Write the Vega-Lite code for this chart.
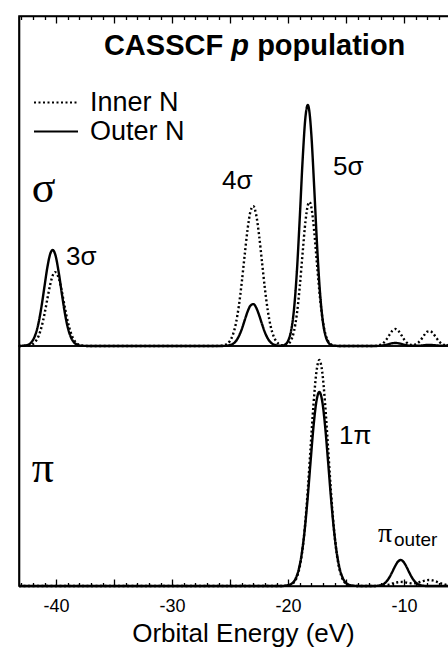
{
  "$schema": "https://vega.github.io/schema/vega-lite/v6.json",
  "padding": {"left": 13, "top": 14, "right": 0, "bottom": 0},
  "background": "white",
  "config": {
    "font": "Liberation Sans",
    "view": {"stroke": "black", "strokeWidth": 1.6},
    "axis": {"domainColor": "black", "tickColor": "black", "domainWidth": 1.6, "tickWidth": 1.3, "grid": false, "labelColor": "black", "titleColor": "black"}
  },
  "datasets": {
    "sigma": [
      {"E": -43.2, "Inner N": 0, "Outer N": 0},
      {"E": -42.5, "Inner N": 0.003, "Outer N": 0.009},
      {"E": -42, "Inner N": 0.02, "Outer N": 0.059},
      {"E": -41.75, "Inner N": 0.049, "Outer N": 0.126},
      {"E": -41.5, "Inner N": 0.103, "Outer N": 0.239},
      {"E": -41.25, "Inner N": 0.193, "Outer N": 0.402},
      {"E": -41, "Inner N": 0.321, "Outer N": 0.598},
      {"E": -40.75, "Inner N": 0.474, "Outer N": 0.79},
      {"E": -40.5, "Inner N": 0.619, "Outer N": 0.924},
      {"E": -40.3, "Inner N": 0.703, "Outer N": 0.96},
      {"E": -40.1, "Inner N": 0.739, "Outer N": 0.924},
      {"E": -39.75, "Inner N": 0.67, "Outer N": 0.717},
      {"E": -39.5, "Inner N": 0.541, "Outer N": 0.518},
      {"E": -39.25, "Inner N": 0.387, "Outer N": 0.332},
      {"E": -39, "Inner N": 0.245, "Outer N": 0.188},
      {"E": -38.75, "Inner N": 0.138, "Outer N": 0.095},
      {"E": -38.5, "Inner N": 0.069, "Outer N": 0.042},
      {"E": -38.25, "Inner N": 0.03, "Outer N": 0.017},
      {"E": -38, "Inner N": 0.012, "Outer N": 0.006},
      {"E": -37.5, "Inner N": 0.001, "Outer N": 0.001},
      {"E": -37, "Inner N": 0, "Outer N": 0},
      {"E": -32, "Inner N": 0, "Outer N": 0},
      {"E": -27, "Inner N": 0, "Outer N": 0},
      {"E": -26, "Inner N": 0.001, "Outer N": 0},
      {"E": -25.5, "Inner N": 0.008, "Outer N": 0.001},
      {"E": -25, "Inner N": 0.053, "Outer N": 0.009},
      {"E": -24.75, "Inner N": 0.116, "Outer N": 0.022},
      {"E": -24.5, "Inner N": 0.226, "Outer N": 0.049},
      {"E": -24.25, "Inner N": 0.399, "Outer N": 0.097},
      {"E": -24, "Inner N": 0.633, "Outer N": 0.167},
      {"E": -23.75, "Inner N": 0.904, "Outer N": 0.255},
      {"E": -23.5, "Inner N": 1.162, "Outer N": 0.342},
      {"E": -23.25, "Inner N": 1.344, "Outer N": 0.403},
      {"E": -23, "Inner N": 1.399, "Outer N": 0.419},
      {"E": -22.75, "Inner N": 1.31, "Outer N": 0.383},
      {"E": -22.5, "Inner N": 1.105, "Outer N": 0.308},
      {"E": -22.25, "Inner N": 0.838, "Outer N": 0.219},
      {"E": -22, "Inner N": 0.572, "Outer N": 0.136},
      {"E": -21.75, "Inner N": 0.352, "Outer N": 0.075},
      {"E": -21.5, "Inner N": 0.194, "Outer N": 0.036},
      {"E": -21.25, "Inner N": 0.097, "Outer N": 0.015},
      {"E": -21, "Inner N": 0.043, "Outer N": 0.006},
      {"E": -20.75, "Inner N": 0.017, "Outer N": 0.003},
      {"E": -20.5, "Inner N": 0.007, "Outer N": 0.004},
      {"E": -20.25, "Inner N": 0.007, "Outer N": 0.015},
      {"E": -20, "Inner N": 0.018, "Outer N": 0.052},
      {"E": -19.75, "Inner N": 0.056, "Outer N": 0.148},
      {"E": -19.5, "Inner N": 0.144, "Outer N": 0.359},
      {"E": -19.25, "Inner N": 0.316, "Outer N": 0.735},
      {"E": -19, "Inner N": 0.588, "Outer N": 1.271},
      {"E": -18.75, "Inner N": 0.93, "Outer N": 1.858},
      {"E": -18.5, "Inner N": 1.25, "Outer N": 2.296},
      {"E": -18.3, "Inner N": 1.408, "Outer N": 2.41},
      {"E": -18.15, "Inner N": 1.44, "Outer N": 2.328},
      {"E": -18, "Inner N": 1.387, "Outer N": 2.118},
      {"E": -17.75, "Inner N": 1.145, "Outer N": 1.582},
      {"E": -17.5, "Inner N": 0.803, "Outer N": 0.998},
      {"E": -17.25, "Inner N": 0.479, "Outer N": 0.532},
      {"E": -17, "Inner N": 0.243, "Outer N": 0.24},
      {"E": -16.75, "Inner N": 0.105, "Outer N": 0.092},
      {"E": -16.5, "Inner N": 0.038, "Outer N": 0.03},
      {"E": -16.25, "Inner N": 0.012, "Outer N": 0.008},
      {"E": -16, "Inner N": 0.003, "Outer N": 0.002},
      {"E": -15.5, "Inner N": 0, "Outer N": 0},
      {"E": -13, "Inner N": 0, "Outer N": 0},
      {"E": -12.5, "Inner N": 0.001, "Outer N": 0},
      {"E": -12, "Inner N": 0.013, "Outer N": 0.004},
      {"E": -11.5, "Inner N": 0.069, "Outer N": 0.014},
      {"E": -11.25, "Inner N": 0.114, "Outer N": 0.021},
      {"E": -11, "Inner N": 0.155, "Outer N": 0.028},
      {"E": -10.75, "Inner N": 0.17, "Outer N": 0.03},
      {"E": -10.5, "Inner N": 0.152, "Outer N": 0.027},
      {"E": -10.25, "Inner N": 0.111, "Outer N": 0.021},
      {"E": -10, "Inner N": 0.065, "Outer N": 0.013},
      {"E": -9.75, "Inner N": 0.032, "Outer N": 0.007},
      {"E": -9.5, "Inner N": 0.014, "Outer N": 0.003},
      {"E": -9.25, "Inner N": 0.009, "Outer N": 0.002},
      {"E": -9, "Inner N": 0.017, "Outer N": 0.002},
      {"E": -8.75, "Inner N": 0.037, "Outer N": 0.003},
      {"E": -8.5, "Inner N": 0.071, "Outer N": 0.005},
      {"E": -8.25, "Inner N": 0.112, "Outer N": 0.008},
      {"E": -8, "Inner N": 0.143, "Outer N": 0.01},
      {"E": -7.75, "Inner N": 0.148, "Outer N": 0.01},
      {"E": -7.5, "Inner N": 0.125, "Outer N": 0.009},
      {"E": -7.25, "Inner N": 0.086, "Outer N": 0.006},
      {"E": -7, "Inner N": 0.048, "Outer N": 0.004},
      {"E": -6.75, "Inner N": 0.022, "Outer N": 0.002},
      {"E": -6.5, "Inner N": 0.01, "Outer N": 0.003},
      {"E": -6.25, "Inner N": 0.009, "Outer N": 0.007},
      {"E": -6, "Inner N": 0.024, "Outer N": 0.023},
      {"E": -5.7, "Inner N": 0.081, "Outer N": 0.081}
    ],
    "pi": [
      {"E": -43.2, "Inner N": 0, "Outer N": 0},
      {"E": -20.5, "Inner N": 0, "Outer N": 0},
      {"E": -20.31, "Inner N": 0.001, "Outer N": 0.002},
      {"E": -19.81, "Inner N": 0.01, "Outer N": 0.015},
      {"E": -19.56, "Inner N": 0.028, "Outer N": 0.037},
      {"E": -19.31, "Inner N": 0.071, "Outer N": 0.085},
      {"E": -19.06, "Inner N": 0.16, "Outer N": 0.177},
      {"E": -18.81, "Inner N": 0.322, "Outer N": 0.334},
      {"E": -18.56, "Inner N": 0.584, "Outer N": 0.573},
      {"E": -18.31, "Inner N": 0.951, "Outer N": 0.888},
      {"E": -18.06, "Inner N": 1.389, "Outer N": 1.25},
      {"E": -17.81, "Inner N": 1.82, "Outer N": 1.596},
      {"E": -17.56, "Inner N": 2.14, "Outer N": 1.847},
      {"E": -17.31, "Inner N": 2.26, "Outer N": 1.94},
      {"E": -17.06, "Inner N": 2.14, "Outer N": 1.847},
      {"E": -16.81, "Inner N": 1.82, "Outer N": 1.596},
      {"E": -16.56, "Inner N": 1.389, "Outer N": 1.25},
      {"E": -16.31, "Inner N": 0.951, "Outer N": 0.888},
      {"E": -16.06, "Inner N": 0.584, "Outer N": 0.573},
      {"E": -15.81, "Inner N": 0.322, "Outer N": 0.334},
      {"E": -15.56, "Inner N": 0.16, "Outer N": 0.177},
      {"E": -15.31, "Inner N": 0.071, "Outer N": 0.085},
      {"E": -15.06, "Inner N": 0.028, "Outer N": 0.037},
      {"E": -14.81, "Inner N": 0.01, "Outer N": 0.015},
      {"E": -14.31, "Inner N": 0.001, "Outer N": 0.002},
      {"E": -13.8, "Inner N": 0, "Outer N": 0},
      {"E": -12.8, "Inner N": 0, "Outer N": 0},
      {"E": -12.3, "Inner N": 0.001, "Outer N": 0.002},
      {"E": -12.05, "Inner N": 0.002, "Outer N": 0.007},
      {"E": -11.8, "Inner N": 0.004, "Outer N": 0.018},
      {"E": -11.55, "Inner N": 0.008, "Outer N": 0.041},
      {"E": -11.3, "Inner N": 0.014, "Outer N": 0.08},
      {"E": -11.05, "Inner N": 0.023, "Outer N": 0.134},
      {"E": -10.8, "Inner N": 0.031, "Outer N": 0.193},
      {"E": -10.55, "Inner N": 0.038, "Outer N": 0.241},
      {"E": -10.3, "Inner N": 0.041, "Outer N": 0.26},
      {"E": -10.05, "Inner N": 0.039, "Outer N": 0.241},
      {"E": -9.8, "Inner N": 0.034, "Outer N": 0.193},
      {"E": -9.55, "Inner N": 0.029, "Outer N": 0.134},
      {"E": -9.3, "Inner N": 0.026, "Outer N": 0.08},
      {"E": -9.05, "Inner N": 0.028, "Outer N": 0.041},
      {"E": -8.8, "Inner N": 0.034, "Outer N": 0.018},
      {"E": -8.55, "Inner N": 0.043, "Outer N": 0.007},
      {"E": -8.3, "Inner N": 0.052, "Outer N": 0.002},
      {"E": -8.05, "Inner N": 0.058, "Outer N": 0},
      {"E": -7.8, "Inner N": 0.06, "Outer N": 0},
      {"E": -7.55, "Inner N": 0.056, "Outer N": 0},
      {"E": -7.3, "Inner N": 0.047, "Outer N": 0},
      {"E": -7.05, "Inner N": 0.036, "Outer N": 0},
      {"E": -6.8, "Inner N": 0.025, "Outer N": 0},
      {"E": -6.55, "Inner N": 0.016, "Outer N": 0},
      {"E": -6.3, "Inner N": 0.009, "Outer N": 0},
      {"E": -6.05, "Inner N": 0.005, "Outer N": 0},
      {"E": -5.7, "Inner N": 0.002, "Outer N": 0}
    ],
    "ann": [
      {"t": "3σ", "E": -39.15, "v": 0.81, "p": "s", "k": "lab"},
      {"t": "4σ", "E": -25.7, "v": 1.57, "p": "s", "k": "lab"},
      {"t": "5σ", "E": -16.13, "v": 1.71, "p": "s", "k": "lab"},
      {"t": "σ", "E": -42.1, "v": 1.44, "p": "s", "k": "greek"},
      {"t": "CASSCF", "E": -25.6, "v": 2.91, "p": "s", "k": "t1"},
      {"t": "p", "E": -24.13, "v": 2.91, "p": "s", "k": "t2"},
      {"t": "population", "E": -22.67, "v": 2.91, "p": "s", "k": "t3"},
      {"t": "π", "E": -42.1, "v": 1.04, "p": "p", "k": "greek"},
      {"t": "1π", "E": -15.61, "v": 1.42, "p": "p", "k": "lab"},
      {"t": "π", "E": -12.25, "v": 0.44, "p": "p", "k": "greekS"},
      {"t": "outer", "E": -10.87, "v": 0.4, "p": "p", "k": "sub"}
    ]
  },
  "resolve": {"scale": {"strokeDash": "independent"}, "legend": {"strokeDash": "independent"}},
  "spacing": 0,
  "bounds": "flush",
  "vconcat": [
    {
      "width": 435,
      "height": 330,
      "resolve": {"axis": {"x": "independent"}},
      "layer": [
        {
          "data": {"name": "sigma"},
          "transform": [{"fold": ["Inner N", "Outer N"], "as": ["series", "value"]}],
          "mark": {"type": "line", "color": "black", "strokeWidth": 2.4, "interpolate": "monotone"},
          "encoding": {
            "x": {"field": "E", "type": "quantitative", "scale": {"domain": [-43.2, -5.7], "nice": false, "zero": false},
                  "axis": {"orient": "top", "ticks": false, "labels": false, "title": null, "domain": true, "domainColor": "black", "domainWidth": 1.6}},
            "y": {"field": "value", "type": "quantitative", "scale": {"domain": [0, 3.3], "nice": false, "zero": true},
                  "axis": {"orient": "left", "ticks": false, "labels": false, "title": null, "domain": true, "domainColor": "black", "domainWidth": 1.6}},
            "strokeDash": {"field": "series", "type": "nominal",
                           "scale": {"domain": ["Inner N", "Outer N"], "range": [[2, 2.5], [1, 0]]},
                           "legend": {"title": null, "orient": "none", "legendX": 14, "legendY": 72, "symbolType": "stroke", "symbolSize": 1936, "symbolStrokeWidth": 2, "symbolStrokeColor": "black", "labelFontSize": 27, "labelColor": "black", "labelOffset": 11, "clipHeight": 29, "rowPadding": 0, "padding": 0}}
          }
        },
        {
          "data": {"name": "ann"},
          "transform": [{"filter": "datum.p === 's' && (datum.k === 'lab' || datum.k === 'greek')"}],
          "mark": {"type": "text", "baseline": "alphabetic", "color": "black", "align": "left",
                   "fontSize": {"expr": "datum.k === 'greek' ? 44 : 26"},
                   "font": {"expr": "datum.k === 'greek' ? 'Liberation Serif' : 'Liberation Sans'"}},
          "encoding": {
            "x": {"field": "E", "type": "quantitative",
                  "axis": {"orient": "top", "values": [-43,-42,-41,-39,-38,-37,-36,-34,-33,-32,-31,-29,-28,-27,-26,-24,-23,-22,-21,-19,-18,-17,-16,-14,-13,-12,-11,-9,-8,-7,-6], "tickSize": -3.5, "tickColor": "black", "tickWidth": 1.3, "labels": false, "title": null, "domain": false}},
            "y": {"field": "v", "type": "quantitative"},
            "text": {"field": "t"}
          }
        },
        {
          "data": {"name": "ann"},
          "transform": [{"filter": "datum.k === 't1' || datum.k === 't2' || datum.k === 't3'"}],
          "mark": {"type": "text", "baseline": "alphabetic", "color": "black", "fontSize": 29, "fontWeight": "bold",
                   "align": {"expr": "datum.k === 't1' ? 'right' : datum.k === 't2' ? 'center' : 'left'"},
                   "fontStyle": {"expr": "datum.k === 't2' ? 'italic' : 'normal'"}},
          "encoding": {
            "x": {"field": "E", "type": "quantitative",
                  "axis": {"orient": "top", "values": [-40, -35, -30, -25, -20, -15, -10], "tickSize": -7, "tickColor": "black", "tickWidth": 1.3, "labels": false, "title": null, "domain": false}},
            "y": {"field": "v", "type": "quantitative"},
            "text": {"field": "t"}
          }
        }
      ]
    },
    {
      "width": 435,
      "height": 240,
      "resolve": {"axis": {"x": "independent"}},
      "layer": [
        {
          "data": {"name": "pi"},
          "transform": [{"fold": ["Inner N", "Outer N"], "as": ["series", "value"]}],
          "mark": {"type": "line", "color": "black", "strokeWidth": 2.4, "interpolate": "monotone"},
          "encoding": {
            "x": {"field": "E", "type": "quantitative", "scale": {"domain": [-43.2, -5.7], "nice": false, "zero": false},
                  "axis": {"orient": "bottom", "values": [-40, -30, -20, -10], "ticks": false, "domain": true, "domainColor": "black", "domainWidth": 1.6,
                           "labelExpr": "toString(datum.value)", "labelFontSize": 18, "labelPadding": 11, "labelColor": "black",
                           "title": "Orbital Energy (eV)", "titleFontSize": 26, "titleFontWeight": "normal", "titleColor": "black", "titleX": 224, "titleY": 55, "titleBaseline": "alphabetic"}},
            "y": {"field": "value", "type": "quantitative", "scale": {"domain": [0, 2.4], "nice": false, "zero": true},
                  "axis": {"orient": "left", "ticks": false, "labels": false, "title": null, "domain": true, "domainColor": "black", "domainWidth": 1.6}},
            "strokeDash": {"field": "series", "type": "nominal",
                           "scale": {"domain": ["Inner N", "Outer N"], "range": [[2, 2.5], [1, 0]]}, "legend": null}
          }
        },
        {
          "data": {"name": "ann"},
          "transform": [{"filter": "datum.p === 'p' && (datum.k === 'lab' || datum.k === 'greek')"}],
          "mark": {"type": "text", "baseline": "alphabetic", "color": "black", "align": "left",
                   "fontSize": {"expr": "datum.k === 'greek' ? 44 : 26"},
                   "font": {"expr": "datum.k === 'greek' ? 'Liberation Serif' : 'Liberation Sans'"}},
          "encoding": {
            "x": {"field": "E", "type": "quantitative",
                  "axis": {"orient": "bottom", "values": [-43,-42,-41,-39,-38,-37,-36,-34,-33,-32,-31,-29,-28,-27,-26,-24,-23,-22,-21,-19,-18,-17,-16,-14,-13,-12,-11,-9,-8,-7,-6], "tickSize": -3.5, "tickColor": "black", "tickWidth": 1.3, "labels": false, "title": null, "domain": false}},
            "y": {"field": "v", "type": "quantitative"},
            "text": {"field": "t"}
          }
        },
        {
          "data": {"name": "ann"},
          "transform": [{"filter": "datum.k === 'greekS' || datum.k === 'sub'"}],
          "mark": {"type": "text", "baseline": "alphabetic", "color": "black", "align": "left",
                   "fontSize": {"expr": "datum.k === 'greekS' ? 28 : 19"},
                   "font": {"expr": "datum.k === 'greekS' ? 'Liberation Serif' : 'Liberation Sans'"}},
          "encoding": {
            "x": {"field": "E", "type": "quantitative",
                  "axis": {"orient": "bottom", "values": [-40, -35, -30, -25, -20, -15, -10], "tickSize": -7, "tickColor": "black", "tickWidth": 1.3, "labels": false, "title": null, "domain": false}},
            "y": {"field": "v", "type": "quantitative"},
            "text": {"field": "t"}
          }
        }
      ]
    }
  ]
}
